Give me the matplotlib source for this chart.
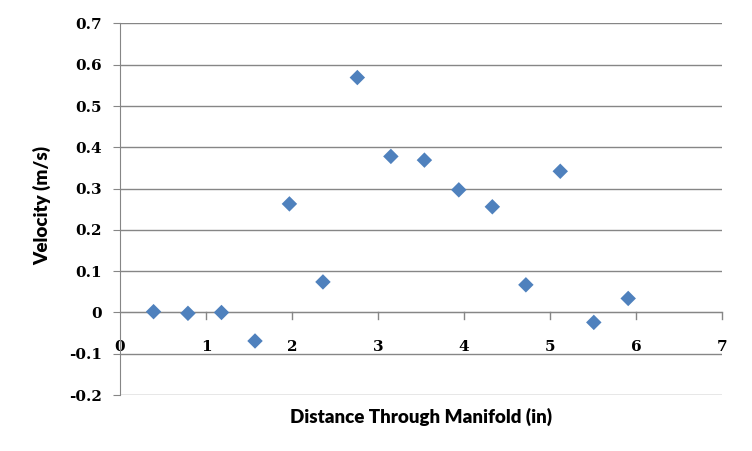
import matplotlib.pyplot as plt
from matplotlib.ticker import FixedLocator

# Distance through manifold (in) and measured velocity (m/s)
distance = [0.39, 0.79, 1.18, 1.57, 1.97, 2.36, 2.76, 3.15, 3.54, 3.94, 4.33, 4.72, 5.12, 5.51, 5.91]
velocity = [0.002, -0.002, 0.0, -0.069, 0.263, 0.074, 0.569, 0.378, 0.369, 0.297, 0.256, 0.067, 0.342, -0.024, 0.034]

x_ticks = [0, 1, 2, 3, 4, 5, 6, 7]
y_ticks = [-0.2, -0.1, 0, 0.1, 0.2, 0.3, 0.4, 0.5, 0.6, 0.7]
y_tick_labels = ['-0.2', '-0.1', '0', '0.1', '0.2', '0.3', '0.4', '0.5', '0.6', '0.7']

grid_col = '#868686'
tick_font = {'family': 'DejaVu Serif', 'weight': 'bold', 'size': 11}

fig = plt.figure(figsize=(7.52, 4.51), dpi=100)
ax = fig.add_axes([0.1596, 0.124, 0.8004, 0.824])

ax.scatter(distance, velocity, marker='D', s=62, color='#4F81BD', edgecolors='none', zorder=3)

ax.set_xlim(0, 7)
ax.set_ylim(-0.2, 0.7)

# horizontal gridlines
ax.set_yticks(y_ticks)
ax.set_yticklabels(y_tick_labels, fontdict=tick_font)
ax.yaxis.grid(True, color=grid_col, linewidth=1)
ax.set_axisbelow(True)

# x axis crosses at y = 0, labels sit lower
ax.spines['bottom'].set_position(('data', 0))
ax.spines['bottom'].set_color(grid_col)
ax.spines['left'].set_color(grid_col)
ax.spines['top'].set_visible(False)
ax.spines['right'].set_visible(False)
ax.xaxis.set_major_locator(FixedLocator(x_ticks))
ax.set_xticklabels([str(t) for t in x_ticks], fontdict=tick_font)

ax.tick_params(axis='x', direction='in', length=0, pad=20, colors='black')
ax.tick_params(axis='y', direction='out', length=5, color=grid_col, pad=8)
for t in x_ticks[1:]:
    ax.plot([t, t], [0, -0.015], color=grid_col, linewidth=1, clip_on=False, zorder=2)

ax.set_xlabel('Distance Through Manifold (in)', fontname='Lato', fontweight='heavy', fontsize=13.5)
ax.xaxis.set_label_coords(0.5, -0.035)
ax.set_ylabel('Velocity (m/s)', fontname='Lato', fontweight='heavy', fontsize=13.5)
ax.yaxis.set_label_coords(-0.115, 0.51)

fig.savefig('out.png', dpi=100)
